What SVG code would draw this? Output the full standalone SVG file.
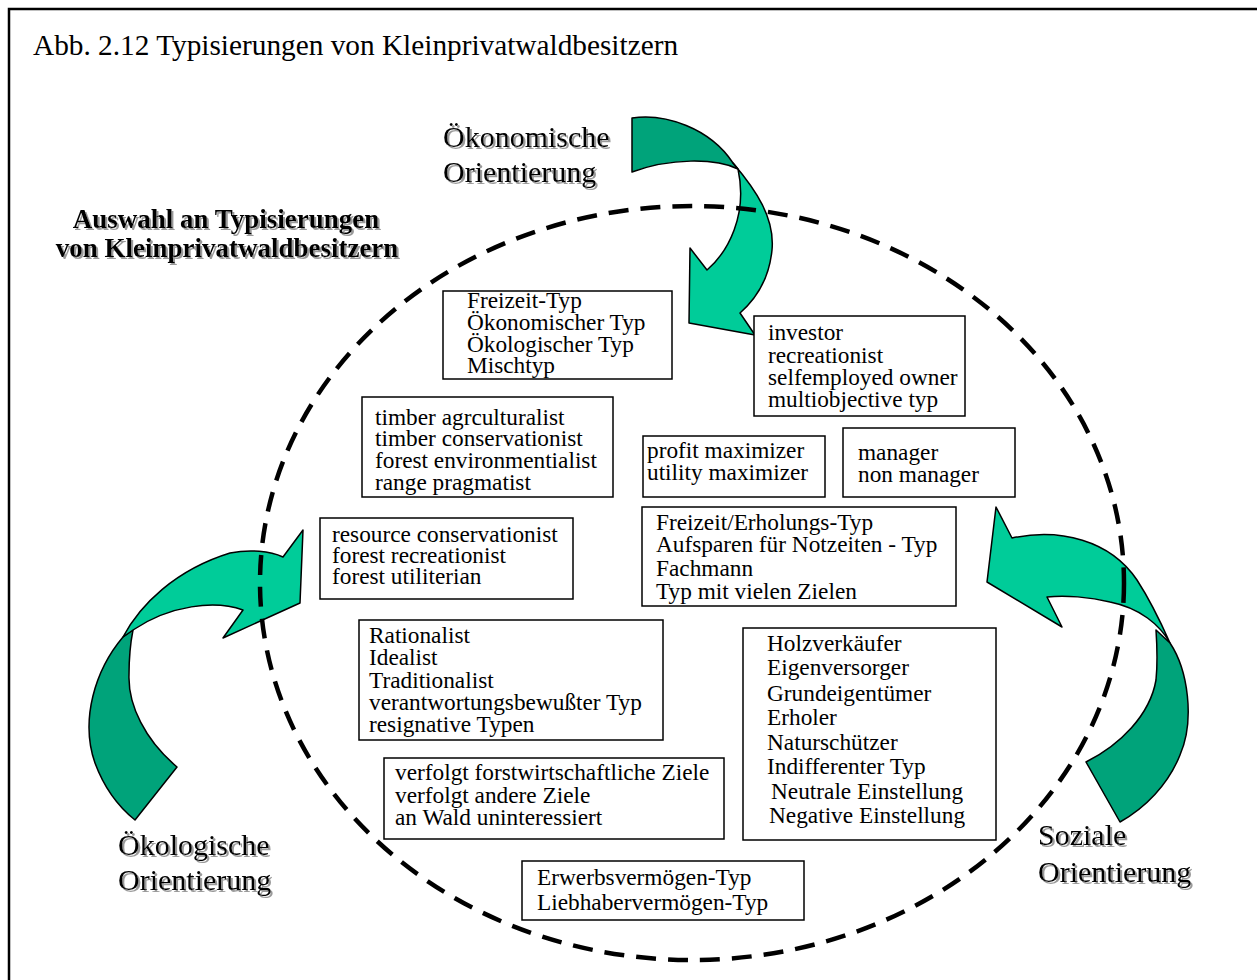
<svg xmlns="http://www.w3.org/2000/svg" width="1257" height="980" viewBox="0 0 1257 980">
  <defs>
    <style>
      .frame { fill: none; stroke: #000; stroke-width: 2.5; }
      .box rect { fill: #fff; stroke: #000; stroke-width: 1.5; }
      .box text { font-family: "Liberation Serif", "Times New Roman", serif; font-size: 23.3px; fill: #000; }
      .title { font-family: "Liberation Serif", "Times New Roman", serif; font-size: 29.3px; fill: #000; }
      .orient { font-family: "Liberation Serif", "Times New Roman", serif; font-size: 30px; fill: #000; filter: url(#shadow); }
      .heading { font-family: "Liberation Serif", "Times New Roman", serif; font-size: 27px; font-weight: bold; fill: #000; text-anchor: middle; filter: url(#shadow); }
      .ring { fill: none; stroke: #000; stroke-width: 4.5; stroke-dasharray: 20 12; }
      .light { fill: #00CC99; stroke: #000; stroke-width: 1.5; stroke-linejoin: round; }
      .dark { fill: #00A37A; stroke: #000; stroke-width: 1.5; stroke-linejoin: round; }
    </style>
    <filter id="shadow" x="-5%" y="-20%" width="110%" height="140%">
      <feFlood flood-color="#9a9a9a" result="c"/>
      <feComposite in="c" in2="SourceAlpha" operator="in" result="s"/>
      <feOffset in="s" dx="2" dy="2" result="so"/>
      <feMerge>
        <feMergeNode in="so"/>
        <feMergeNode in="SourceGraphic"/>
      </feMerge>
    </filter>
  </defs>

  <rect width="1257" height="980" fill="#fff"/>

  <!-- page frame: top and left rule only -->
  <path class="frame" d="M9,980 L9,9 L1257,9"/>

  <text class="title" x="33" y="55">Abb. 2.12 Typisierungen von Kleinprivatwaldbesitzern</text>

  <!-- curved ribbon arrows -->
  <g id="connectors">
    <g id="arrow-economic">
      <path class="dark" d="M632,118 C665,113 710,128 733,163 L738,169 C715,158 670,158 632,172 Z"/>
      <path class="light" d="M733,163 C756,190 775,218 772,250 C769,280 755,300 740,313 L755,335 L689,323 L690,248 L707,270 C728,252 748,215 738,169 Z"/>
    </g>
    <g id="arrow-ecologic">
      <path class="dark" d="M123,637 C95,670 80,720 95,763 C105,790 120,808 135,820 L177,767 C145,740 128,705 129,675 C129,655 131,640 133,630 Z"/>
      <path class="light" d="M123,637 C140,605 175,570 230,553 C250,549 270,551 283,557 L303,530 L300,603 L223,638 L243,610 C215,600 170,605 133,630 Z"/>
    </g>
    <g id="arrow-social">
      <path class="light" d="M1012,538 C1060,528 1110,540 1137,580 C1150,600 1162,625 1170,643 C1160,625 1140,608 1110,602 C1090,597 1065,595 1047,597 L1062,627 L987,582 L996,507 Z"/>
      <path class="dark" d="M1156,630 L1170,643 C1188,670 1195,720 1180,755 C1168,785 1145,808 1120,822 L1086,762 C1120,745 1150,715 1156,680 C1158,660 1157,645 1156,630 Z"/>
    </g>
  </g>

  <!-- dashed boundary -->
  <ellipse id="boundary" class="ring" cx="692" cy="583" rx="432" ry="377"/>

  <!-- orientation labels -->
  <g id="label-economic">
    <text class="orient" x="443" y="147">Ökonomische</text>
    <text class="orient" x="443" y="182">Orientierung</text>
  </g>
  <g id="label-ecologic">
    <text class="orient" x="118" y="855">Ökologische</text>
    <text class="orient" x="118" y="890">Orientierung</text>
  </g>
  <g id="label-social">
    <text class="orient" x="1038" y="845">Soziale</text>
    <text class="orient" x="1038" y="882">Orientierung</text>
  </g>
  <g id="heading">
    <text class="heading" x="226" y="228">Auswahl an Typisierungen</text>
    <text class="heading" x="227" y="257">von Kleinprivatwaldbesitzern</text>
  </g>

  <!-- typology boxes -->
  <g id="box-freizeit" class="box">
    <rect x="443" y="291" width="229" height="88"/>
    <text x="467" y="308">Freizeit-Typ</text>
    <text x="467" y="330">Ökonomischer Typ</text>
    <text x="467" y="352">Ökologischer Typ</text>
    <text x="467" y="373">Mischtyp</text>
  </g>
  <g id="box-investor" class="box">
    <rect x="754" y="316" width="211" height="100"/>
    <text x="768" y="340">investor</text>
    <text x="768" y="363">recreationist</text>
    <text x="768" y="385">selfemployed owner</text>
    <text x="768" y="407">multiobjective typ</text>
  </g>
  <g id="box-timber" class="box">
    <rect x="362" y="397" width="251" height="100"/>
    <text x="375" y="425">timber agrculturalist</text>
    <text x="375" y="446">timber conservationist</text>
    <text x="375" y="468">forest environmentialist</text>
    <text x="375" y="490">range pragmatist</text>
  </g>
  <g id="box-profit" class="box">
    <rect x="643" y="436" width="182" height="61"/>
    <text x="647" y="458">profit maximizer</text>
    <text x="647" y="480">utility maximizer</text>
  </g>
  <g id="box-manager" class="box">
    <rect x="843" y="428" width="172" height="69"/>
    <text x="858" y="460">manager</text>
    <text x="858" y="482">non manager</text>
  </g>
  <g id="box-erholung" class="box">
    <rect x="642" y="507" width="314" height="99"/>
    <text x="656" y="530">Freizeit/Erholungs-Typ</text>
    <text x="656" y="552">Aufsparen für Notzeiten - Typ</text>
    <text x="656" y="576">Fachmann</text>
    <text x="656" y="599">Typ mit vielen Zielen</text>
  </g>
  <g id="box-resource" class="box">
    <rect x="320" y="518" width="253" height="81"/>
    <text x="332" y="542">resource conservationist</text>
    <text x="332" y="563">forest recreationist</text>
    <text x="332" y="584">forest utiliterian</text>
  </g>
  <g id="box-rationalist" class="box">
    <rect x="359" y="620" width="304" height="120"/>
    <text x="369" y="643">Rationalist</text>
    <text x="369" y="665">Idealist</text>
    <text x="369" y="688">Traditionalist</text>
    <text x="369" y="710">verantwortungsbewußter Typ</text>
    <text x="369" y="732">resignative Typen</text>
  </g>
  <g id="box-holz" class="box">
    <rect x="743" y="628" width="253" height="212"/>
    <text x="767" y="651">Holzverkäufer</text>
    <text x="767" y="675">Eigenversorger</text>
    <text x="767" y="701">Grundeigentümer</text>
    <text x="767" y="725">Erholer</text>
    <text x="767" y="750">Naturschützer</text>
    <text x="767" y="774">Indifferenter Typ</text>
    <text x="771" y="799">Neutrale Einstellung</text>
    <text x="769" y="823">Negative Einstellung</text>
  </g>
  <g id="box-ziele" class="box">
    <rect x="384" y="758" width="340" height="81"/>
    <text x="395" y="780">verfolgt forstwirtschaftliche Ziele</text>
    <text x="395" y="803">verfolgt andere Ziele</text>
    <text x="395" y="825">an Wald uninteressiert</text>
  </g>
  <g id="box-vermoegen" class="box">
    <rect x="522" y="861" width="282" height="59"/>
    <text x="537" y="885">Erwerbsvermögen-Typ</text>
    <text x="537" y="910">Liebhabervermögen-Typ</text>
  </g>
</svg>
